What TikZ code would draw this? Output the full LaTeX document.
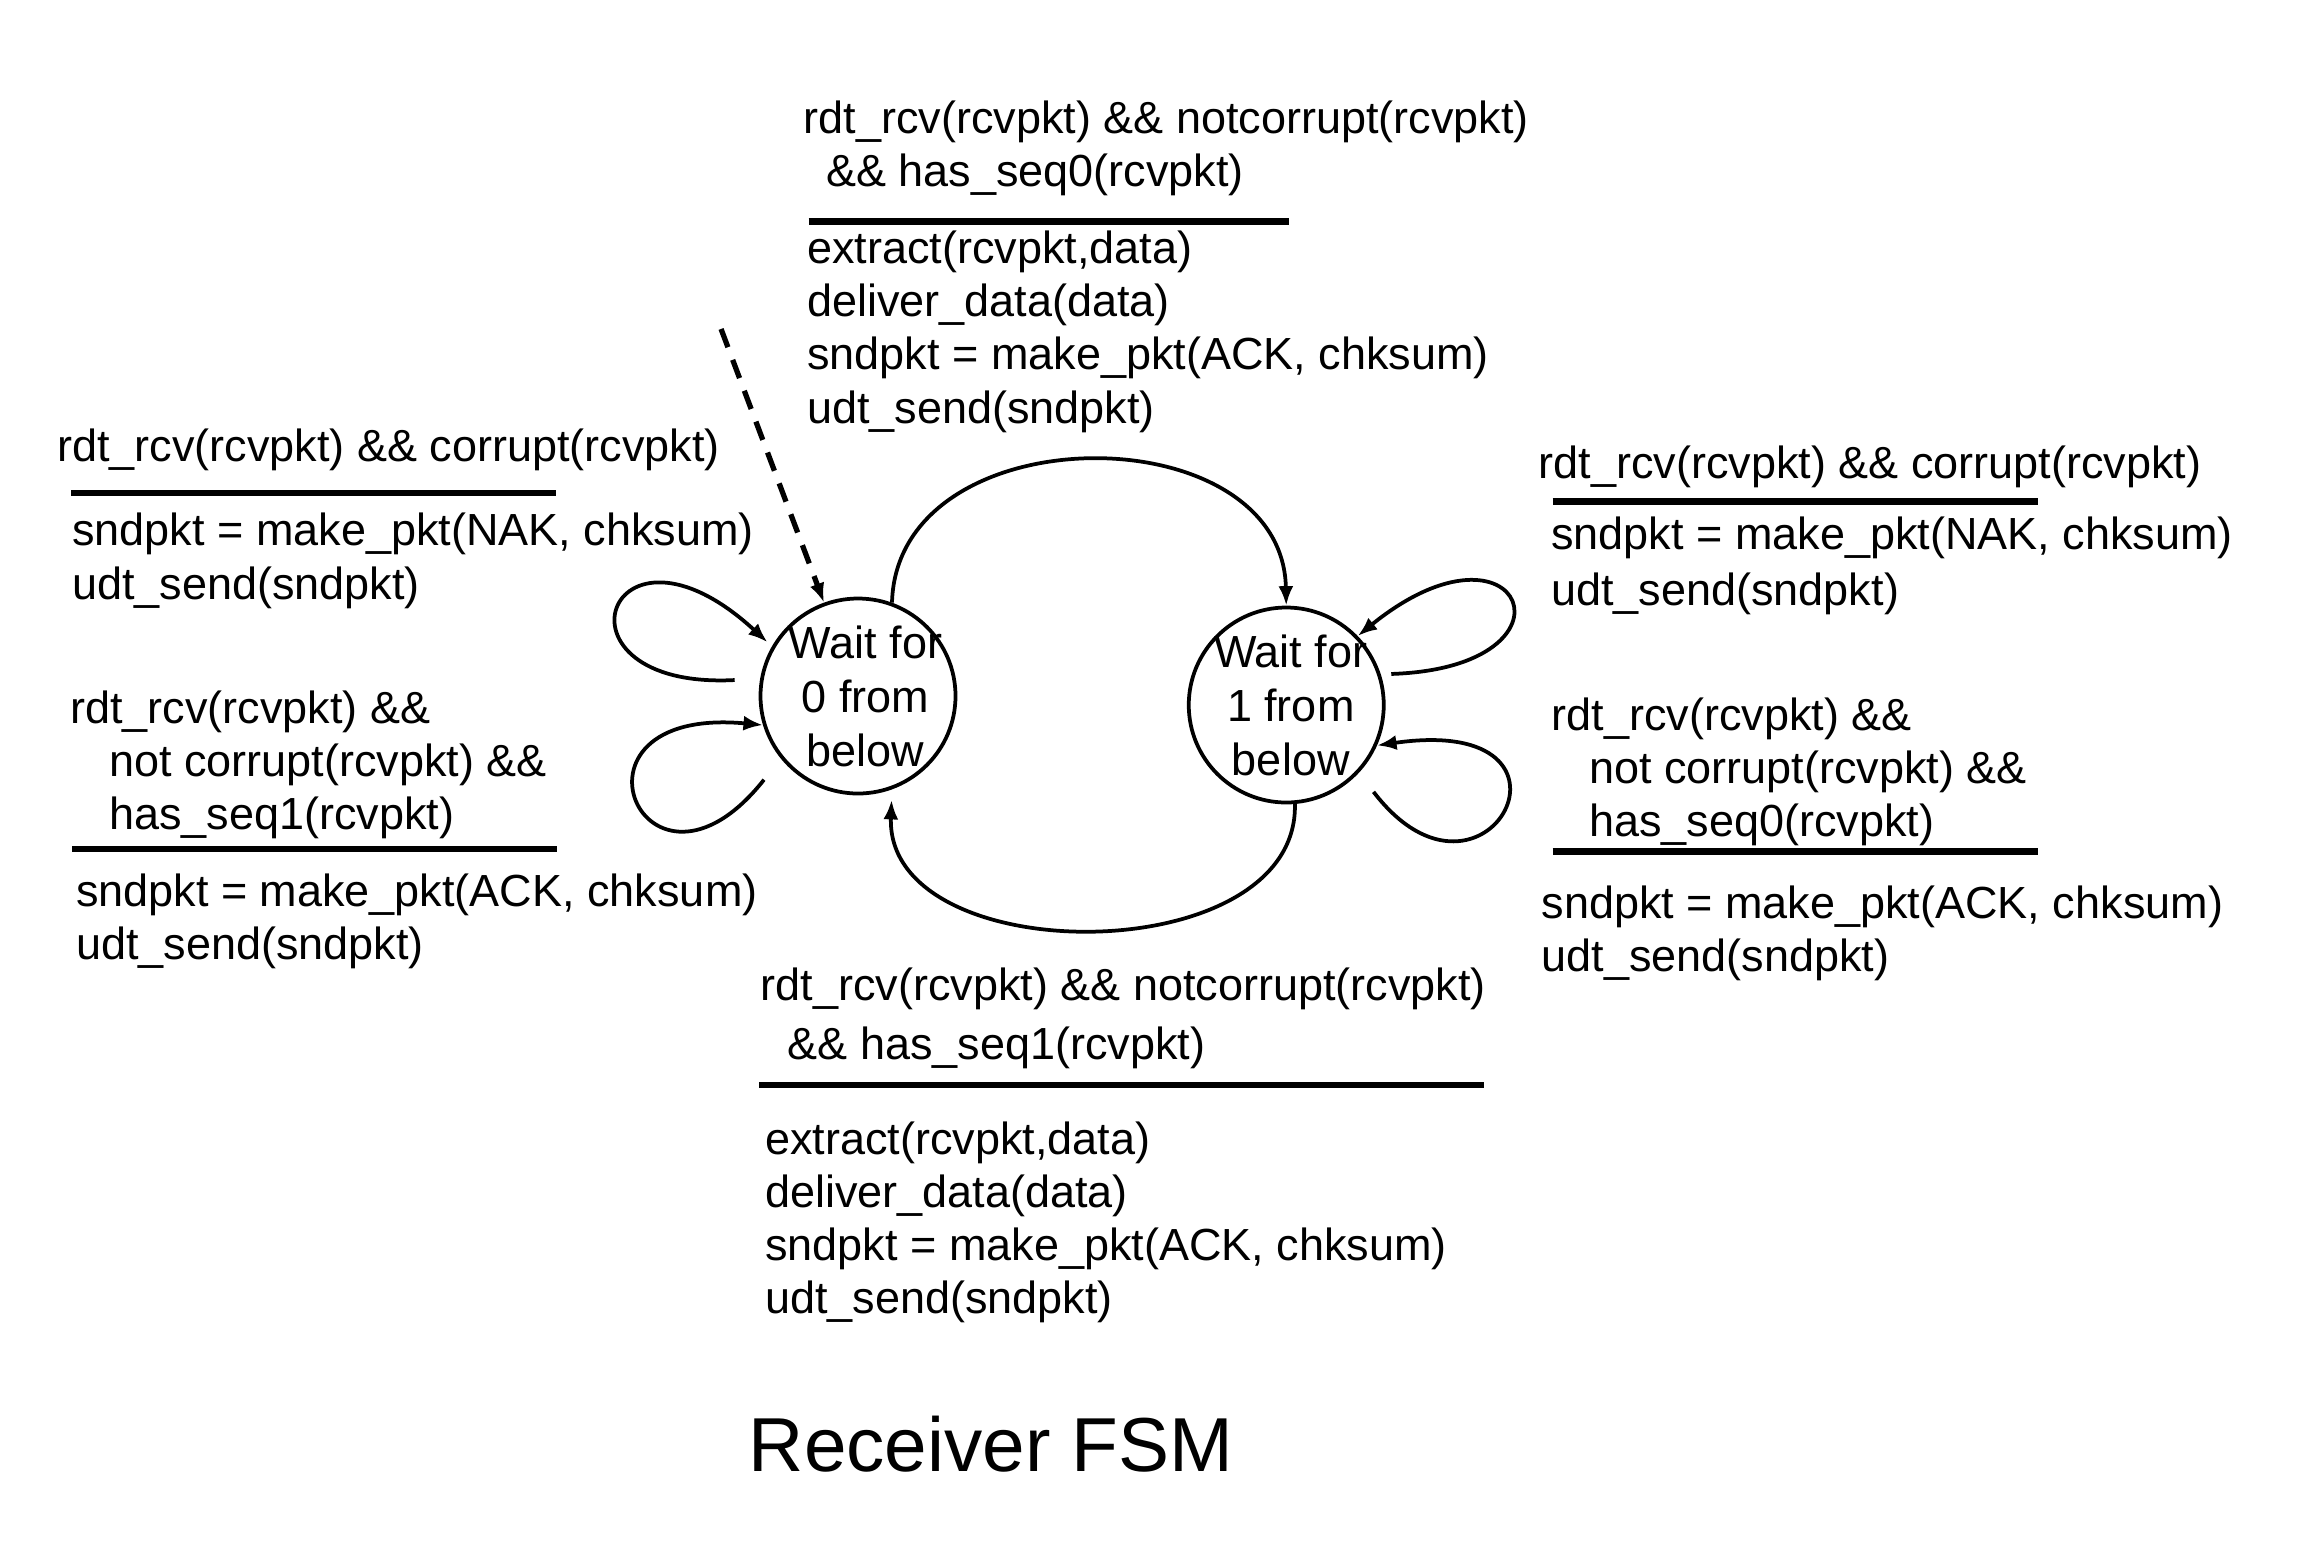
\documentclass[tikz,border=0pt]{standalone}
\usepackage{fontspec}
\setmainfont{Liberation Sans}
\usetikzlibrary{arrows.meta}

\tikzset{
	waitstate/.style={draw, circle, line width=2.5pt, minimum size=130pt, inner sep=0pt},
	statetxt/.style={align=center, inner sep=0pt, font=\fontsize{30}{36}\selectfont},
	lbl/.style={anchor=north west, inner sep=0pt, align=left, font=\fontsize{30}{35.5}\selectfont},
	bar/.style={line width=4.5pt},
	trans/.style={line width=2.5pt, -{Latex[length=13pt,width=10pt]}},
}

\begin{document}
\begin{tikzpicture}[x=1pt, y=-1pt]
		\useasboundingbox (0,0) rectangle (1548.67,1036.67);
		
		% states
		\node[waitstate]                          (q0)    at (572,464)   {};
		\node[waitstate]                          (q1)    at (857.5,470) {};
		\node[statetxt]                           (q0txt) at ([xshift=5pt]q0.center) {Wait for\\0 from\\below};
		\node[statetxt]                           (q1txt) at ([xshift=3pt]q1.center) {Wait for\\1 from\\below};
		
		% initial arrow
		\coordinate (init) at (480.7,219.3);
		\draw[line width=3.5pt, dash pattern=on 13pt off 9pt, -{Latex[length=13pt,width=10pt]}] (init) -- (q0.110);
		
		% transitions between states
		\draw[trans] (q0.70) .. controls (598,275) and (855,275) .. (q1.north);
		\draw[trans, shorten >=7pt] (q1.-85) .. controls (866,648) and (590,648) .. (q0.-70);
		
		% self loops
		\draw[trans, shorten <=17pt, shorten >=4pt] (q0.170) .. controls (360,460) and (405,330) .. (q0.150);
		\draw[trans, shorten <=18pt] (q0.219) .. controls (430,620) and (365,470) .. (q0.197);
		\draw[trans, shorten <=7pt] (q1.18) .. controls (1060,445) and (1015,335) .. (q1.44);
		\draw[trans, shorten <=16pt] (q1.-43) .. controls (990,625) and (1070,475) .. (q1.-24);
		
		% q0 -> q1
		\node[lbl] (c01) at (535.5,66.9) {rdt\_rcv(rcvpkt) \&\& notcorrupt(rcvpkt)\\\hspace*{15pt}\&\& has\_seq0(rcvpkt)};
		\draw[bar] (539,147.8) -- (859.2,147.8);
		\node[lbl] (a01) at (538,153.6) {extract(rcvpkt,data)\\deliver\_data(data)\\sndpkt = make\_pkt(ACK, chksum)\\udt\_send(sndpkt)};
		
		% q0 -> q0
		\node[lbl] (c00) at (38,285.5) {rdt\_rcv(rcvpkt) \&\& corrupt(rcvpkt)};
		\draw[bar] (47.6,328.7) -- (370.8,328.7);
		\node[lbl] (a00) at (48,342) {sndpkt = make\_pkt(NAK, chksum)\\udt\_send(sndpkt)};
		
		\node[lbl] (c00b) at (46.5,460.1) {rdt\_rcv(rcvpkt) \&\&\\\hspace*{26pt}not corrupt(rcvpkt) \&\&\\\hspace*{26pt}has\_seq1(rcvpkt)};
		\draw[bar] (48,566) -- (371,566);
		\node[lbl] (a00b) at (50.5,582.5) {sndpkt = make\_pkt(ACK, chksum)\\udt\_send(sndpkt)};
		
		% q1 -> q1
		\node[lbl] (c11) at (1025.5,297) {rdt\_rcv(rcvpkt) \&\& corrupt(rcvpkt)};
		\draw[bar] (1035,334.3) -- (1358.7,334.3);
		\node[lbl] (a11) at (1034,344.2) {sndpkt = make\_pkt(NAK, chksum)\\[2pt]udt\_send(sndpkt)};
		
		\node[lbl] (c11b) at (1034.3,465) {rdt\_rcv(rcvpkt) \&\&\\\hspace*{25pt}not corrupt(rcvpkt) \&\&\\\hspace*{25pt}has\_seq0(rcvpkt)};
		\draw[bar] (1035,567.7) -- (1358.7,567.7);
		\node[lbl] (a11b) at (1027.5,590.2) {sndpkt = make\_pkt(ACK, chksum)\\udt\_send(sndpkt)};
		
		% q1 -> q0
		\node[lbl] (c10) at (507,645.2) {rdt\_rcv(rcvpkt) \&\& notcorrupt(rcvpkt)\\[3.4pt]\hspace*{18pt}\&\& has\_seq1(rcvpkt)};
		\draw[bar] (506.3,723.3) -- (989.3,723.3);
		\node[lbl] (a10) at (510,747.4) {extract(rcvpkt,data)\\deliver\_data(data)\\sndpkt = make\_pkt(ACK, chksum)\\udt\_send(sndpkt)};
		
		\node[anchor=base west, inner sep=0pt, font=\fontsize{51}{60}\selectfont] (title) at (499,981) {Receiver FSM};
	\end{tikzpicture}
\end{document}
